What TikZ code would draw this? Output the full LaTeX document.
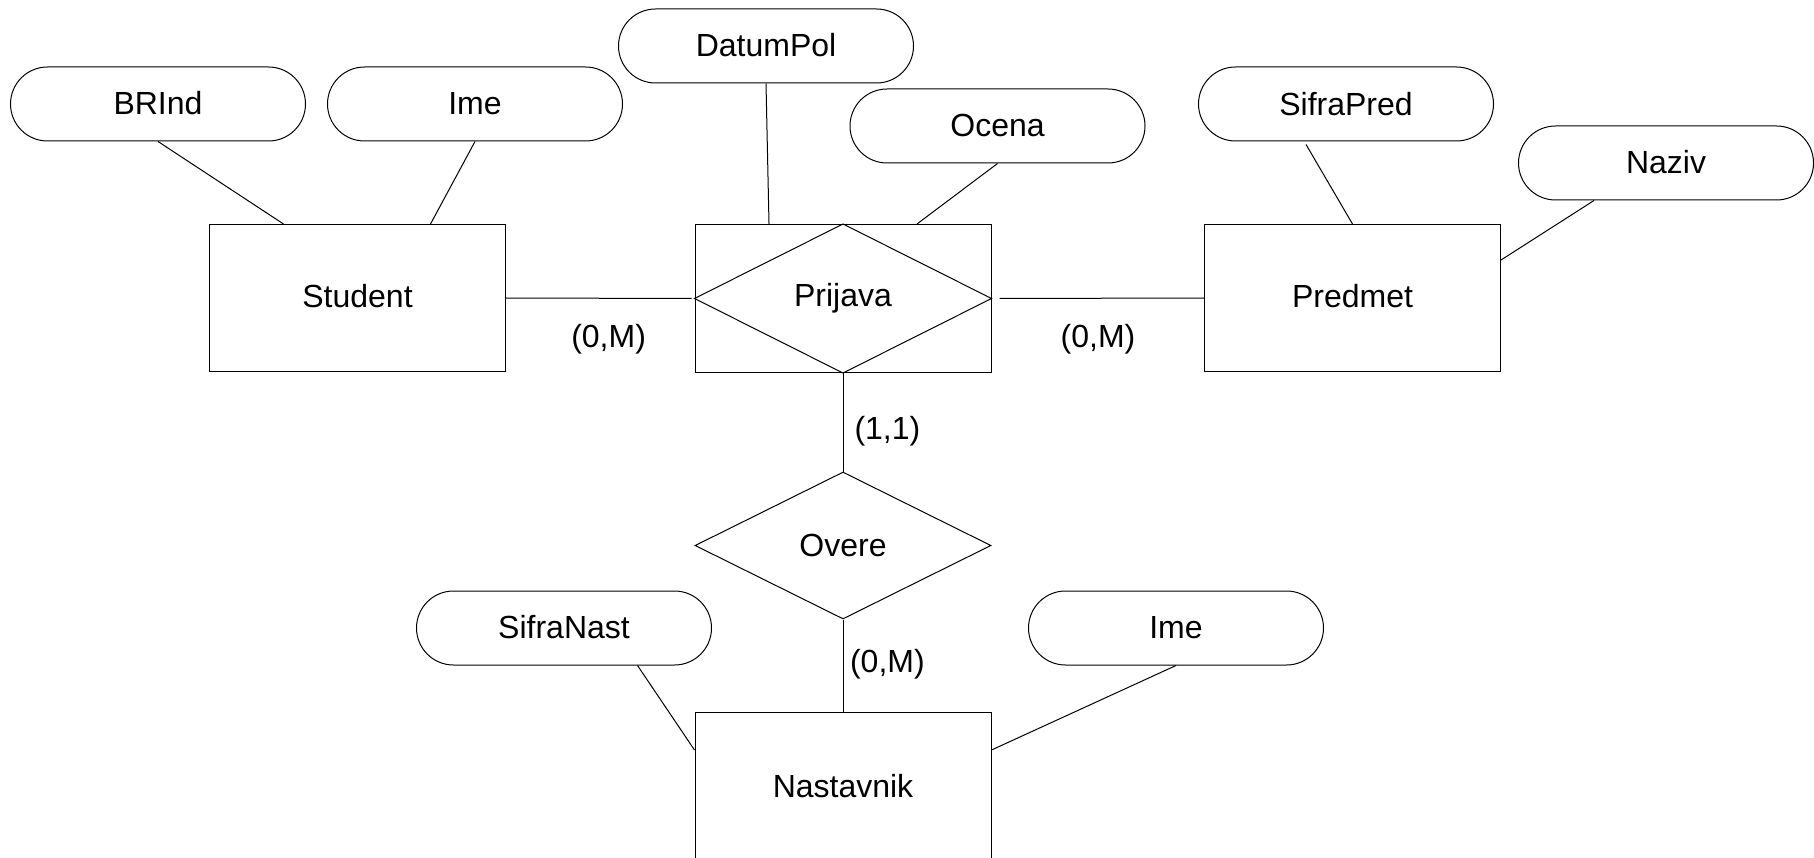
\documentclass[tikz,border=0pt]{standalone}
\usepackage{fontspec}
\setmainfont{Liberation Sans}
\usetikzlibrary{shapes.geometric,calc}
\newcommand{\up}[2]{\raisebox{#1}{#2}}
\begin{document}
\begin{tikzpicture}[x=1pt,y=-1pt,
  every node/.style={font=\fontsize{32}{38}\selectfont},
  attr/.style={draw, line width=1pt, rectangle, rounded corners=37pt, minimum width=295pt, minimum height=74pt, inner sep=0pt},
  entity/.style={draw, line width=1pt, rectangle, minimum width=296pt, minimum height=147pt, inner sep=0pt},
  rel/.style={draw, line width=1pt, diamond, aspect=2, minimum width=296pt, minimum height=147pt, inner sep=0pt},
  lbl/.style={inner sep=0pt},
  conn/.style={line width=1pt}]
\useasboundingbox (0,0) rectangle (1814,858);
\fill[white] (0,0) rectangle (1814,858);

% attributes
\node[attr] (brind) at (158,104) {\up{2pt}{BRInd}};
\node[attr] (ime1) at (475,104) {\up{2pt}{Ime}};
\node[attr] (datum) at (766,46) {\up{2pt}{DatumPol}};
\node[attr] (ocena) at (997.5,126) {\up{1pt}{Ocena}};
\node[attr] (sifrap) at (1346,104) {\up{1pt}{SifraPred}};
\node[attr] (naziv) at (1666,163) {\up{2pt}{Naziv}};
\node[attr] (sifran) at (564,628) {\up{3pt}{SifraNast}};
\node[attr] (ime2) at (1176,628) {\up{2pt}{Ime}};

% entities
\node[entity] (student) at (357.5,298) {\up{3.5pt}{Student}};
\node[entity, minimum height=148pt] (prijava) at (843,298.5) {\up{-3.5pt}{Prijava}};
\node[entity] (predmet) at (1352.5,298) {\up{3.5pt}{Predmet}};
\node[entity] (nast) at (843,786) {\up{1pt}{Nastavnik}};
\draw[conn] (prijava.north) -- (prijava.east) -- (prijava.south) -- (prijava.west) -- cycle;

% relationship
\node[rel] (overe) at (843,545.5) {Overe};

% cardinality labels
\node[lbl] (l1) at (608.6,339) {(0,M)};
\node[lbl] (l2) at (1098,339) {(0,M)};
\node[lbl] (l3) at (887.4,431.5) {(1,1)};
\node[lbl] (l4) at (887.4,664) {(0,M)};

% connectors
\draw[conn] (brind.south) -- ([xshift=-74pt]student.north);
\draw[conn] (ime1.south) -- ([xshift=73pt]student.north);
\draw[conn] (datum.south) -- ([xshift=-74pt]prijava.north);
\draw[conn] (ocena.south) -- ([xshift=74pt]prijava.north);
\draw[conn] ([xshift=-40pt,yshift=-3pt]sifrap.south) -- (predmet.north);
\draw[conn] ([xshift=-72pt]naziv.south) -- ([yshift=38pt]predmet.east);
\draw[conn] ([xshift=73.5pt]sifran.south) -- ([yshift=36pt]nast.west);
\draw[conn] (ime2.south) -- ([yshift=36pt]nast.east);
\draw[conn] (student.east) -- ([xshift=-3pt]prijava.west);
\draw[conn] ([xshift=8pt]prijava.east) -- (predmet.west);
\draw[conn] (prijava.south) -- (overe.north);
\draw[conn] (overe.south) -- (nast.north);
\end{tikzpicture}
\end{document}
